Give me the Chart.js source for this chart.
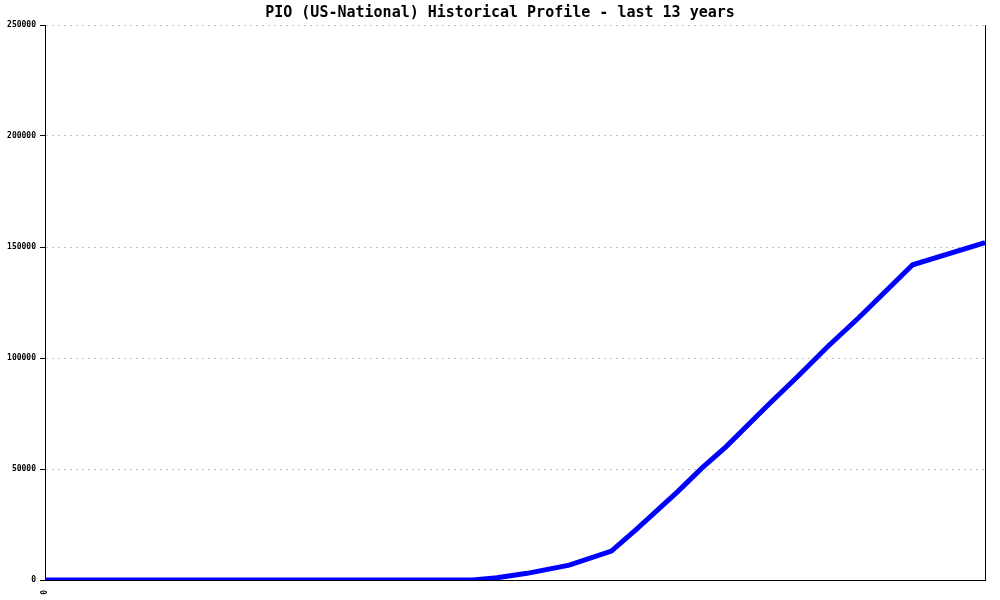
<!DOCTYPE html>
<html>
<head>
<meta charset="utf-8">
<script src="https://cdn.jsdelivr.net/npm/chart.js@4/dist/chart.umd.min.js"></script>
<style>
  html, body { margin: 0; padding: 0; background: #fff; }
  #wrap { width: 1000px; height: 600px; }
</style>
</head>
<body>
<div id="wrap"><canvas id="chart" width="1000" height="600"></canvas></div>
<script>
// months since start of the 13 year window
const months = [0, 71, 75, 80, 87, 94, 98, 105, 109, 113, 120, 125, 130, 135, 144, 156];
const counts = [0, 0, 1000, 3000, 6700, 13000, 22500, 39800, 50400, 60000, 78800, 91900, 105400, 118000, 142000, 152000];
const yTicks = [0, 50000, 100000, 150000, 200000, 250000];
const xTicks = ['0'];
const titleText = 'PIO (US-National) Historical Profile - last 13 years';

const mono = 'DejaVu Sans Mono';

const chart = new Chart(document.getElementById('chart'), {
  type: 'line',
  data: {
    datasets: [{
      data: months.map((m, i) => ({ x: m, y: counts[i] })),
      borderColor: '#0000ff',
      borderWidth: 5,
      pointRadius: 0,
      tension: 0,
      fill: false
    }]
  },
  options: {
    responsive: false,
    animation: false,
    devicePixelRatio: 1,
    layout: { padding: 0 },
    plugins: {
      legend: { display: false },
      tooltip: { enabled: false },
      title: {
        display: true,
        text: titleText,
        color: '#000',
        font: { family: mono, size: 15, weight: 'bold' },
        padding: { top: 4, bottom: 3 }
      }
    },
    scales: {
      x: {
        type: 'linear',
        min: 0,
        max: months[months.length - 1],
        afterBuildTicks: s => { s.ticks = xTicks.map(t => ({ value: Number(t) })); },
        afterFit: s => { s.height = 20; },
        grid: { display: false },
        border: { display: true, color: '#000', width: 1 },
        ticks: {
          color: '#000',
          minRotation: 90,
          maxRotation: 90,
          padding: 2,
          font: { family: mono, size: 8, weight: 'bold' }
        }
      },
      y: {
        min: 0,
        max: 250000,
        afterBuildTicks: s => { s.ticks = yTicks.map(v => ({ value: v })); },
        afterFit: s => { s.width = 45; },
        grid: {
          color: '#c0c0c0',
          tickColor: '#000',
          tickLength: 5
        },
        border: { display: true, color: '#000', width: 1, dash: [2, 4] },
        ticks: {
          color: '#000',
          padding: 4,
          font: { family: mono, size: 8, weight: 'bold' },
          callback: v => String(v)
        }
      },
      yRight: {
        position: 'right',
        min: 0,
        max: 250000,
        afterFit: s => { s.width = 15; },
        grid: { display: false },
        border: { display: true, color: '#000', width: 1 },
        ticks: { display: false }
      }
    }
  }
});
</script>
</body>
</html>
